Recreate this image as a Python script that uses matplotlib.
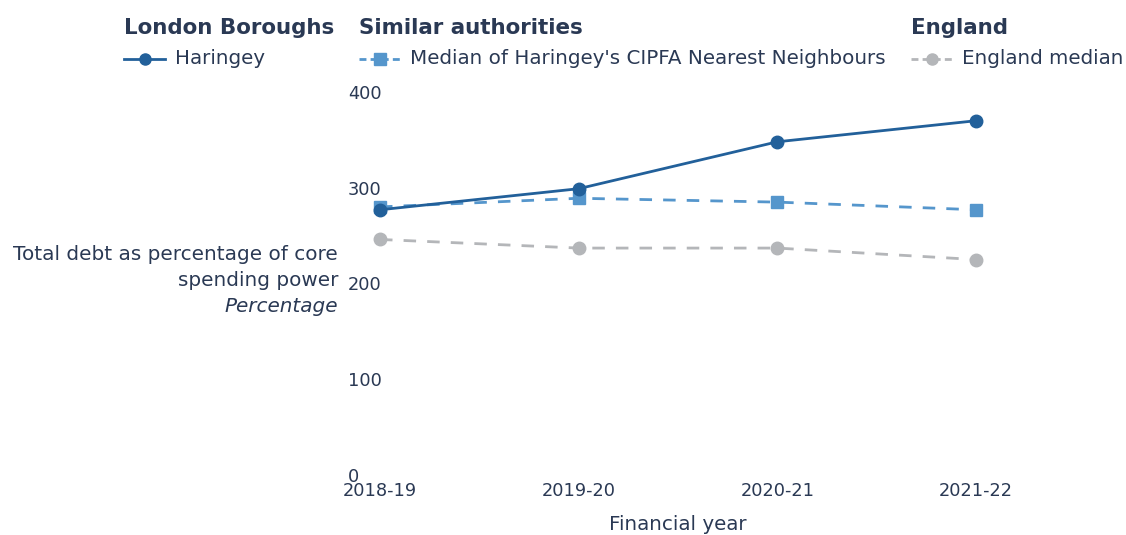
import matplotlib.pyplot as plt
from matplotlib.lines import Line2D

W, H = 1126, 535

years = ['2018-19', '2019-20', '2020-21', '2021-22']
haringey = [277, 299, 348, 370]
neighbours = [280, 289, 285, 277]
england = [246, 237, 237, 225]
y_ticks = [0, 100, 200, 300, 400]

text_col = '#2a3954'
c_har = '#22609a'
c_nn = '#5596cc'
c_eng = '#b4b6b9'

plt.rcParams['font.family'] = ['DejaVu Sans']

fig = plt.figure(figsize=(W / 100, H / 100), dpi=100)


def fx(px):
    return px / W


def fy(py):
    return 1 - py / H


# plot area: categories from 380px to 976px; y=0 at 475px, 400 at 92px
left, right = 380, 976
bottom, top = 475, 80
ax = fig.add_axes([fx(left), fy(bottom), fx(right - left), (bottom - top) / H])
ax.set_xlim(0, 3)
per_val = (475 - 92) / 400
ax.set_ylim(0, (bottom - top) / per_val)

xs = list(range(len(years)))
ax.plot(xs, england, color=c_eng, lw=2, ls=(0, (4.5, 4)), marker='o', ms=9,
        clip_on=False, zorder=2)
ax.plot(xs, neighbours, color=c_nn, lw=2, ls=(0, (4.5, 4)), marker='s', ms=8.5,
        clip_on=False, zorder=3)
ax.plot(xs, haringey, color=c_har, lw=2, marker='o', ms=9,
        clip_on=False, zorder=4)

for s in ax.spines.values():
    s.set_visible(False)
ax.set_xticks(xs)
ax.set_xticklabels(years, fontsize=12.8, color=text_col)
ax.set_yticks(y_ticks)
ax.set_yticklabels([str(v) for v in y_ticks], fontsize=12.8, color=text_col,
                   ha='left')
ax.tick_params(axis='x', length=0, pad=5)
ax.tick_params(axis='y', length=0, pad=(380 - 348) * 0.72)

# x axis title
fig.text(fx(678), fy(524), 'Financial year', ha='center', va='center',
         fontsize=14.3, color=text_col)

# y axis title, right-aligned left of the tick labels
fig.text(fx(338), fy(255), 'Total debt as percentage of core', ha='right',
         va='center', fontsize=14.4, color=text_col)
fig.text(fx(338), fy(281), 'spending power', ha='right', va='center',
         fontsize=14.4, color=text_col)
fig.text(fx(338), fy(307), 'Percentage', ha='right', va='center',
         fontsize=14.4, color=text_col, style='italic')

# legend groups
groups = [
    (124, 'London Boroughs', 'Haringey', c_har, '-', 'o'),
    (359, 'Similar authorities', "Median of Haringey's CIPFA Nearest Neighbours",
     c_nn, (0, (2.5, 1.5)), 's'),
    (911, 'England', 'England median', c_eng, (0, (2.5, 1.5)), 'o'),
]
for x0, title, label, col, ls, mk in groups:
    fig.text(fx(x0), fy(28), title, ha='left', va='center', fontsize=15.4,
             fontweight='bold', color=text_col)
    fig.add_artist(Line2D([fx(x0), fx(x0 + 41)], [fy(59), fy(59)],
                          transform=fig.transFigure, color=col, lw=2, ls=ls))
    fig.add_artist(Line2D([fx(x0 + 20.5)], [fy(59)], transform=fig.transFigure,
                          color=col, marker=mk, ms=8, ls='none'))
    fig.text(fx(x0 + 51), fy(59), label, ha='left', va='center', fontsize=14.3,
             color=text_col)

fig.savefig('out.png', dpi=100)
